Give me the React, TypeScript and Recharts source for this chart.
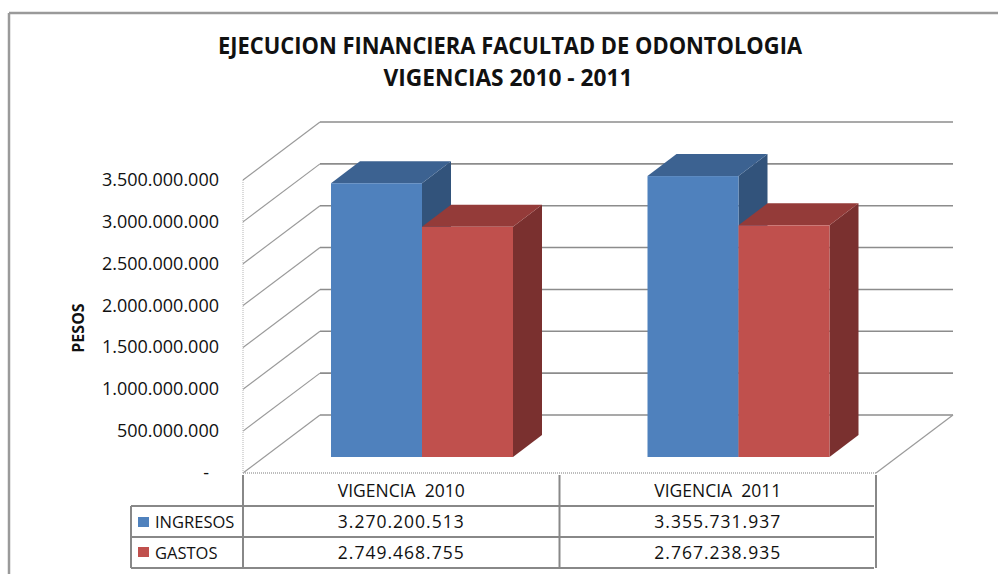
import { BarChart, Bar, XAxis, YAxis, CartesianGrid } from "recharts";

const categories = ["VIGENCIA 2010", "VIGENCIA 2011"];
const ingresos = [3270200513, 3355731937];
const gastos = [2749468755, 2767238935];
const yTicks = [0, 500000000, 1000000000, 1500000000, 2000000000, 2500000000, 3000000000, 3500000000];

const data = categories.map((name, i) => ({ name, ingresos: ingresos[i], gastos: gastos[i] }));

const W = 998;
const H = 574;
const PLOT = { left: 320, top: 122, right: 953, bottom: 415 };
// depth of the walls and of the boxes (oblique projection)
const DEPTH_X = 77;
const DEPTH_Y = 58;
const BAR_DX = 56;
const BAR_DY = 42;
const BOX_X = 29;
const BOX_Y = 22;

const FONT = "'Open Sans', 'Noto Sans', sans-serif";
const GRID = "#8c8c8c";
const TABLE_LINE = "#888";

const fmt = (v: number) => (v === 0 ? "-" : String(v).replace(/\B(?=(\d{3})+(?!\d))/g, "."));

function Box3D(props: any) {
  const { x, y, width, height, fill, topFill, sideFill } = props;
  if (!height || height <= 0) return null;
  const fx = x - BAR_DX;
  const fy = y + BAR_DY;
  const top = `${fx},${fy} ${fx + BOX_X},${fy - BOX_Y} ${fx + width + BOX_X},${fy - BOX_Y} ${fx + width},${fy}`;
  const side = `${fx + width},${fy} ${fx + width + BOX_X},${fy - BOX_Y} ${fx + width + BOX_X},${fy + height - BOX_Y} ${fx + width},${fy + height}`;
  return (
    <g>
      <polygon points={side} fill={sideFill} />
      <polygon points={top} fill={topFill} />
      <rect x={fx} y={fy} width={width} height={height} fill={fill} />
    </g>
  );
}

function GridLine(props: any) {
  const { x1, y1, x2, y2 } = props;
  const top = props.y ?? PLOT.top;
  const bottom = top + (props.height ?? PLOT.bottom - PLOT.top);
  const isFloor = Math.abs(y1 - bottom) < 1;
  const isTop = Math.abs(y1 - top) < 1;
  return (
    <g>
      <line x1={x1 - DEPTH_X} y1={y1 + DEPTH_Y} x2={x1} y2={y1} stroke="#9a9a9a" strokeWidth={1.2} />
      <line x1={x1} y1={y1} x2={x2} y2={y2} stroke={GRID} strokeWidth={1.6} />
      {isTop && (
        <line
          x1={x1 - DEPTH_X}
          y1={top + DEPTH_Y}
          x2={x1 - DEPTH_X}
          y2={bottom + DEPTH_Y}
          stroke="#b5b5b5"
          strokeWidth={1}
          strokeDasharray="1 1"
        />
      )}
      {isFloor && (
        <g>
          <line
            x1={x1 - DEPTH_X}
            y1={y1 + DEPTH_Y}
            x2={x2 - DEPTH_X}
            y2={y1 + DEPTH_Y}
            stroke="#a8a8a8"
            strokeWidth={1.5}
            strokeDasharray="1 1"
          />
          <line x1={x2 - DEPTH_X} y1={y1 + DEPTH_Y} x2={x2} y2={y2} stroke="#9a9a9a" strokeWidth={1.2} />
        </g>
      )}
    </g>
  );
}

function YTick(props: any) {
  const { y, payload } = props;
  const zero = payload.value === 0;
  return (
    <text
      x={zero ? 209 : 219}
      y={y + DEPTH_Y}
      dy={6}
      textAnchor="end"
      fontFamily={FONT}
      fontSize={18}
      fill="#111"
    >
      {fmt(payload.value)}
    </text>
  );
}

function TableTick(props: any) {
  const { x, index, payload } = props;
  const cx = x - DEPTH_X;
  const half = (PLOT.right - PLOT.left) / categories.length / 2;
  const txt = { fontFamily: FONT, fontSize: 17.5, fill: "#111", textAnchor: "middle" as const };
  return (
    <g>
      {index === 0 && (
        <line x1={cx - half} y1={475} x2={cx - half} y2={568} stroke={TABLE_LINE} strokeWidth={2} />
      )}
      <line x1={cx + half} y1={475} x2={cx + half} y2={568} stroke={TABLE_LINE} strokeWidth={2} />
      <text x={cx} y={497} {...txt} style={{ whiteSpace: "pre" }}>
        {payload.value.replace(" ", "  ")}
      </text>
      <text x={cx} y={528} {...txt} letterSpacing={1}>
        {fmt(ingresos[index])}
      </text>
      <text x={cx} y={559} {...txt} letterSpacing={1}>
        {fmt(gastos[index])}
      </text>
    </g>
  );
}

export default function App() {
  return (
    <div style={{ position: "absolute", left: 0, top: 0, width: W, height: H, background: "#fff" }}>
      <BarChart
        width={W}
        height={H}
        data={data}
        margin={{ top: PLOT.top, right: W - PLOT.right, bottom: H - PLOT.bottom - 1, left: PLOT.left - 1 }}
        barGap={0}
      >
        <CartesianGrid vertical={false} horizontal={(p: any) => <GridLine key={p.key} {...p} />} />
        <XAxis
          dataKey="name"
          height={1}
          axisLine={false}
          tickLine={false}
          interval={0}
          tick={(p: any) => <TableTick key={p.index} {...p} />}
        />
        <YAxis
          width={1}
          domain={[0, 3500000000]}
          ticks={yTicks}
          axisLine={false}
          tickLine={false}
          interval={0}
          tick={(p: any) => <YTick key={p.index} {...p} />}
        />
        <Bar
          dataKey="ingresos"
          name="INGRESOS"
          fill="#4f81bd"
          barSize={91}
          isAnimationActive={false}
          shape={(p: any) => <Box3D {...p} topFill="#3c6291" sideFill="#32537b" />}
        />
        <Bar
          dataKey="gastos"
          name="GASTOS"
          fill="#c0504d"
          barSize={91}
          isAnimationActive={false}
          shape={(p: any) => <Box3D {...p} topFill="#943b39" sideFill="#7a302f" />}
        />
      </BarChart>
      <svg
        width={W}
        height={H}
        style={{ position: "absolute", left: 0, top: 0, pointerEvents: "none" }}
      >
        <line x1={9} y1={13} x2={W} y2={13} stroke="#9a9a9a" strokeWidth={2.5} />
        <line x1={9} y1={13} x2={9} y2={H} stroke="#9a9a9a" strokeWidth={2.5} />
        <text
          x={510}
          y={54}
          textAnchor="middle"
          fontFamily={FONT}
          fontWeight="bold"
          fontSize={23}
          textLength={584}
          lengthAdjust="spacingAndGlyphs"
          fill="#111"
        >
          EJECUCION FINANCIERA FACULTAD DE ODONTOLOGIA
        </text>
        <text
          x={508}
          y={86}
          textAnchor="middle"
          fontFamily={FONT}
          fontWeight="bold"
          fontSize={23}
          textLength={249}
          lengthAdjust="spacingAndGlyphs"
          fill="#111"
        >
          VIGENCIAS 2010 - 2011
        </text>
        <text
          transform="translate(84 328) rotate(-90)"
          textAnchor="middle"
          fontFamily={FONT}
          fontWeight="bold"
          fontSize={16}
          fill="#111"
        >
          PESOS
        </text>
        {/* data table rows and legend column */}
        <line x1={131} y1={506} x2={874} y2={506} stroke={TABLE_LINE} strokeWidth={2} />
        <line x1={131} y1={537} x2={874} y2={537} stroke={TABLE_LINE} strokeWidth={2} />
        <line x1={131} y1={568} x2={874} y2={568} stroke={TABLE_LINE} strokeWidth={2} />
        <line x1={131} y1={506} x2={131} y2={568} stroke={TABLE_LINE} strokeWidth={2} />
        <rect x={138} y={517} width={11} height={10} fill="#4f81bd" />
        <text x={155} y={528} fontFamily={FONT} fontSize={16.5} fill="#111">
          INGRESOS
        </text>
        <rect x={138} y={547} width={11} height={10} fill="#c0504d" />
        <text x={155} y={559} fontFamily={FONT} fontSize={16.5} fill="#111">
          GASTOS
        </text>
      </svg>
    </div>
  );
}
